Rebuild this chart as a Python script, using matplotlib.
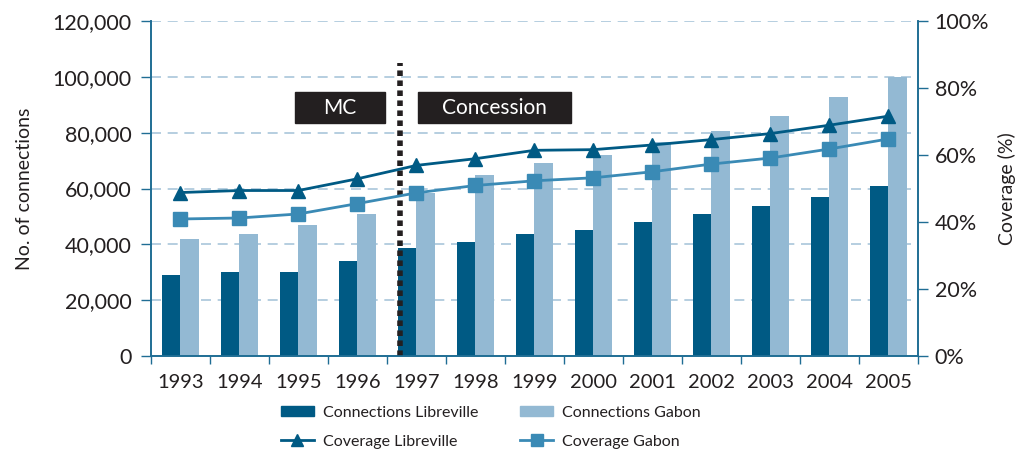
import matplotlib.pyplot as plt
import numpy as np
from matplotlib.patches import Rectangle
from matplotlib.lines import Line2D
from matplotlib.ticker import FuncFormatter

plt.rcParams['font.family'] = ['Lato', 'DejaVu Sans']

years = ['1993', '1994', '1995', '1996', '1997', '1998', '1999',
         '2000', '2001', '2002', '2003', '2004', '2005']
conn_libreville = [29000, 30000, 30000, 34000, 38700, 41000, 43800,
                   45200, 48100, 51000, 53800, 57100, 61000]
conn_gabon = [42000, 43800, 47000, 51000, 58500, 65000, 69000,
              72100, 76500, 80700, 85800, 92900, 100100]
cov_libreville = [48.8, 49.4, 49.4, 52.9, 56.9, 58.9, 61.4,
                  61.6, 63.0, 64.6, 66.4, 68.9, 71.6]
cov_gabon = [40.9, 41.2, 42.4, 45.5, 48.7, 50.9, 52.3,
             53.2, 55.0, 57.3, 59.1, 61.8, 64.8]

dark = '#005A84'
light = '#93B9D3'
mid = '#3A8AB5'
spine = '#1F6D94'
txt = '#231F20'

fig = plt.figure(figsize=(10.32, 4.54), dpi=100)
ax = fig.add_axes([0.1463, 0.2159, 0.7432, 0.7378])
ax2 = ax.twinx()

x = np.arange(len(years))
w = 0.31
ax.bar(x - w / 2, conn_libreville, w, color=dark, zorder=2)
ax.bar(x + w / 2, conn_gabon, w, color=light, zorder=2)

ax2.plot(x, cov_libreville, color=dark, lw=2, marker='^', ms=10, zorder=3)
ax2.plot(x, cov_gabon, color=mid, lw=2, marker='s', ms=10, zorder=3)

ax.set_xlim(-0.5, len(years) - 0.5)
ax.set_ylim(0, 120000)
ax2.set_ylim(0, 100)
ax.set_yticks(np.arange(0, 120001, 20000))
ax2.set_yticks(np.arange(0, 101, 20))
ax.yaxis.set_major_formatter(FuncFormatter(lambda v, p: f'{int(v):,}'))
ax2.yaxis.set_major_formatter(FuncFormatter(lambda v, p: f'{int(v)}%'))

ax.set_xticks(x)
ax.set_xticklabels(years)
ax.set_xticks(np.arange(-0.5, len(years), 1), minor=True)
ax.tick_params(axis='x', which='major', length=0, labelsize=14.5, colors=txt, pad=13)
ax.tick_params(axis='x', which='minor', length=6, color=spine, width=1)
ax.tick_params(axis='y', length=7, color=spine, width=1, labelsize=15.5,
               labelcolor=txt, pad=7)
ax2.tick_params(axis='y', length=7, color=spine, width=1, labelsize=15.5,
                labelcolor=txt, pad=5)

ax.grid(axis='y', color='#A9C6DA', ls=(0, (6, 4)), lw=1.2, zorder=0)
ax.set_axisbelow(True)

for a in (ax, ax2):
    a.spines['top'].set_visible(False)
    for s in ('left', 'right', 'bottom'):
        a.spines[s].set_color(spine)
        a.spines[s].set_linewidth(1.2)

ax.set_ylabel('No. of connections', fontsize=14, color=txt, labelpad=14)
ax2.set_ylabel('Coverage (%)', fontsize=14, color=txt, labelpad=6)

# policy change line and period labels
ax.vlines(3.72, 0, 105000, colors='#231F20', lw=4, linestyles=(0, (1, 0.8)), zorder=4)
ax.add_patch(Rectangle((1.94, 83600), 1.53, 10800, color=txt, zorder=5))
ax.text(2.705, 89000, 'MC', color='white', fontsize=15, ha='center', va='center', zorder=6)
ax.add_patch(Rectangle((4.03, 83600), 2.59, 10800, color=txt, zorder=5))
ax.text(5.325, 89000, 'Concession', color='white', fontsize=15, ha='center', va='center', zorder=6)

handles = [
    Rectangle((0, 0), 1, 1, color=dark),
    Line2D([], [], color=dark, lw=2, marker='^', ms=8),
    Rectangle((0, 0), 1, 1, color=light),
    Line2D([], [], color=mid, lw=2, marker='s', ms=8),
]
labels = ['Connections Libreville', 'Coverage Libreville',
          'Connections Gabon', 'Coverage Gabon']
fig.legend(handles, labels, ncol=2, loc='lower left', bbox_to_anchor=(0.258, -0.02),
           frameon=False, fontsize=11.5, handlelength=2.1, handleheight=0.6,
           columnspacing=2.6, labelspacing=0.95, handletextpad=0.55, labelcolor=txt)

fig.savefig('out.png', dpi=100)
